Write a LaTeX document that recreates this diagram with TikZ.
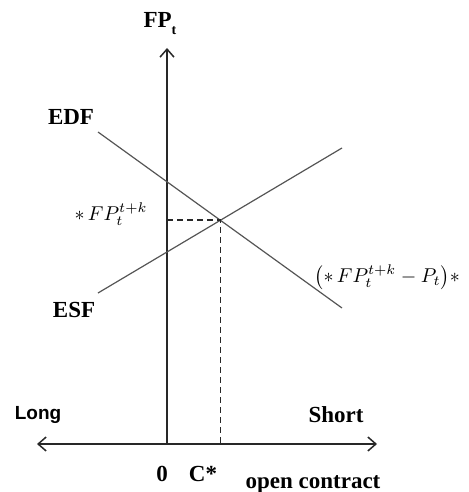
\documentclass[tikz,border=0pt]{standalone}
\usepackage{fontspec}
\setmainfont{Liberation Serif}
\setsansfont{Liberation Sans}
\usepackage{tikz}
\usetikzlibrary{arrows.meta,calc,intersections}
\definecolor{axisgray}{RGB}{40,40,40}
\definecolor{curvegray}{RGB}{85,85,85}

\begin{document}
\begin{tikzpicture}[
  x=0.5pt, y=-0.5pt,
  every node/.style={font=\fontsize{11.5}{13}\selectfont, inner sep=0pt},
  mathlabel/.style={font=\fontsize{10}{12}\selectfont},
  axisline/.style={draw=axisgray, line width=0.75pt},
  curveline/.style={draw=curvegray, line width=0.6pt},
  guideline/.style={draw=axisgray, line width=0.8pt, dash pattern=on 3pt off 2pt},
]
\useasboundingbox (0,0) rectangle (469,492);

% Axes
\coordinate (origin) at (167,444);
\coordinate (ytop) at (167,48);
\coordinate (xleft) at (37,444);
\coordinate (xright) at (377,444);
\draw[axisline, {Straight Barb[length=4pt,width=7pt]}-{Straight Barb[length=4pt,width=7pt]}] (xleft) -- (xright);
\draw[axisline, -{Straight Barb[length=4pt,width=7pt]}] (origin) -- (ytop);

% Demand and supply lines
\coordinate (edf_start) at (98,132);
\coordinate (edf_end) at (342,308);
\coordinate (esf_start) at (98,293);
\coordinate (esf_end) at (342,148);
\draw[curveline, name path=edf] (edf_start) -- (edf_end);
\draw[curveline, name path=esf] (esf_start) -- (esf_end);

% Equilibrium
\path[name intersections={of=edf and esf, by=eq}];
\coordinate (eq_y) at (origin |- eq);
\coordinate (eq_x) at (eq |- origin);
\draw[guideline] (eq_y) -- (eq) -- (eq_x);

% Labels
\node (fp_label) at (160,24) {\textbf{FP}\raisebox{-3.5pt}{\fontsize{7}{8}\selectfont\textbf{t}}};
\node (edf_label) at (71,117) {\textbf{EDF}};
\node (esf_label) at (74,310) {\textbf{ESF}};
\node[mathlabel] (eq_price) at (111,214) {$\ast\, FP_t^{t+k}$};
\node[mathlabel, anchor=west] (spread_label) at (314,277) {$\bigl(\ast\, FP_t^{t+k}-P_t\bigr)\ast$};
\node[font=\sffamily\bfseries\fontsize{9.5}{11}\selectfont] (long_label) at (38,415) {Long};
\node (short_label) at (336,415) {\textbf{Short}};
\node (zero_label) at (162,474) {\textbf{0}};
\node (cstar_label) at (203,474) {\textbf{C*}};
\node (xaxis_label) at (313,484) {\textbf{open contract}};
\end{tikzpicture}
\end{document}
